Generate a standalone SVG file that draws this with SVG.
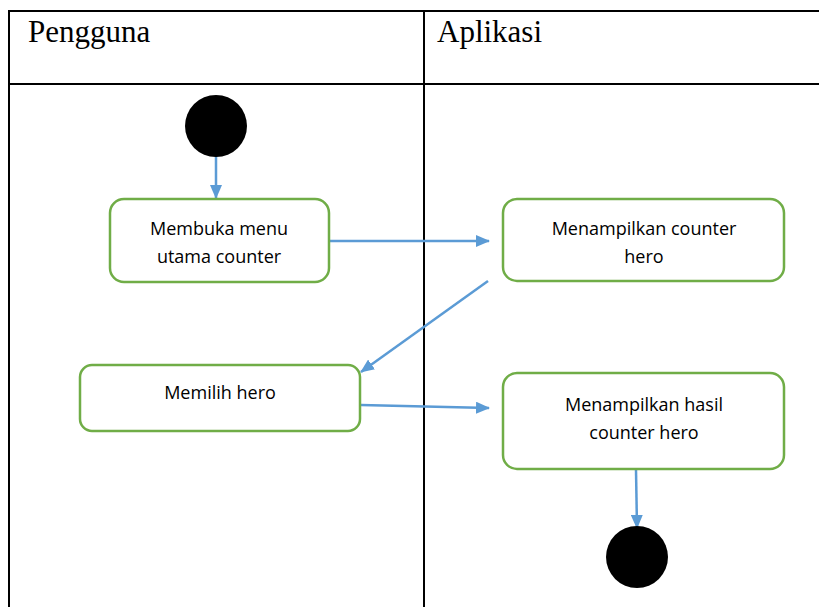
<svg xmlns="http://www.w3.org/2000/svg" width="819" height="607" viewBox="0 0 819 607">
<style>
.grid{stroke:#000;stroke-width:2;fill:none}
.hdr{font-family:"Liberation Serif",serif;font-size:31px;fill:#000}
.box{fill:#fff;stroke:#70AD47;stroke-width:2.5}
.lbl{font-family:"Open Sans","Liberation Sans",sans-serif;font-size:18px;fill:#000;text-anchor:middle}
.conn{stroke:#5B9BD5;stroke-width:2.5;fill:none;marker-end:url(#ah)}
</style>
<defs>
<marker id="ah" markerWidth="14" markerHeight="12" refX="13" refY="6" orient="auto" markerUnits="userSpaceOnUse">
<path d="M0,0 L14,6 L0,12 z" fill="#5B9BD5"/>
</marker>
</defs>
<rect width="819" height="607" fill="#fff"/>
<g id="swimlanes">
<line class="grid" x1="8" y1="11" x2="819" y2="11"/>
<line class="grid" x1="8" y1="84" x2="819" y2="84"/>
<line class="grid" x1="9" y1="10" x2="9" y2="607"/>
<line class="grid" x1="424" y1="11" x2="424" y2="607"/>
<text class="hdr" x="28" y="42">Pengguna</text>
<text class="hdr" x="437" y="42">Aplikasi</text>
</g>
<g id="connectors">
<line class="conn" x1="216" y1="156" x2="216" y2="198"/>
<line class="conn" x1="330" y1="241" x2="489" y2="241"/>
<line class="conn" x1="488" y1="281" x2="361" y2="372"/>
<line class="conn" x1="361" y1="405" x2="489" y2="408"/>
<line class="conn" x1="636" y1="470" x2="637" y2="528"/>
</g>
<g id="start"><circle cx="216" cy="126" r="31" fill="#000"/></g>
<g id="n1">
<rect class="box" x="110" y="199" width="219" height="83" rx="14"/>
<text class="lbl" x="219" y="235">Membuka menu</text>
<text class="lbl" x="219" y="263">utama counter</text>
</g>
<g id="n2">
<rect class="box" x="503" y="199" width="281" height="82" rx="14"/>
<text class="lbl" x="644" y="235">Menampilkan counter</text>
<text class="lbl" x="644" y="263">hero</text>
</g>
<g id="n3">
<rect class="box" x="80" y="365" width="280" height="66" rx="12"/>
<text class="lbl" x="220" y="399">Memilih hero</text>
</g>
<g id="n4">
<rect class="box" x="503" y="373" width="281" height="96" rx="14"/>
<text class="lbl" x="644" y="411">Menampilkan hasil</text>
<text class="lbl" x="644" y="439">counter hero</text>
</g>
<g id="end"><circle cx="637" cy="557" r="31" fill="#000"/></g>
</svg>
